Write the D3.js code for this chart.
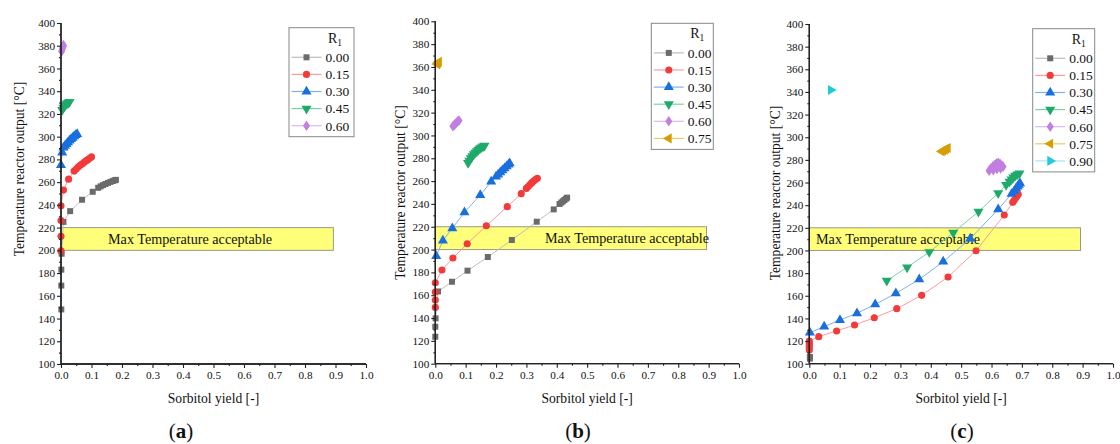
<!DOCTYPE html>
<html>
<head>
<meta charset="utf-8">
<script src="https://cdn.jsdelivr.net/npm/d3@7"></script>
<style>
  html, body { margin: 0; padding: 0; background: #fff; }
  svg { display: block; }
  text { font-family: "Liberation Serif", "Times New Roman", serif; fill: #111; }
</style>
</head>
<body>
<svg id="chart" width="1120" height="444"></svg>
<script>
// R1 ratio labels and styling keys
const ratios = ["0.00", "0.15", "0.30", "0.45", "0.60", "0.75", "0.90"];
const markerColors = ["#6b6b6b", "#f33a3a", "#1a6fdf", "#1faa6b", "#c17fe0", "#d69e00", "#1ecbd6"];
const lineColors = ["#bdbdbd", "#ff9a9a", "#7fb0ef", "#78d4a8", "#dcb8f2", "#ebcb6a", "#9ee9ee"];
const markerShapes = ["square", "circle", "up", "down", "diamond", "left", "right"];

const yTicks = [100, 120, 140, 160, 180, 200, 220, 240, 260, 280, 300, 320, 340, 360, 380, 400];
const xTicks = [0, 0.1, 0.2, 0.3, 0.4, 0.5, 0.6, 0.7, 0.8, 0.9, 1.0];

// Acceptable outlet temperature band
const bandTemps = [200, 220];
const bandYield = [0, 0.893];
const bandLabel = "Max Temperature acceptable";

// Panel (a): sorbitol yield vs reactor outlet temperature, [yield, T]
const a000 = [[0.001,148],[0.001,169],[0.001,183],[0.002,197],[0.008,225],[0.03,234.5],[0.069,244.5],[0.104,251.5],[0.122,255],[0.13,256.3],[0.138,257.4],[0.146,258.4],[0.154,259.3],[0.162,260.2],[0.17,261],[0.176,261.6],[0.18,262]];
const a015 = [[0,199.5],[0,212.4],[0,226.2],[0,239.2],[0.008,253],[0.025,262.6],[0.043,269.7],[0.05,271.5],[0.057,273.5],[0.064,275],[0.07,276.2],[0.076,277.5],[0.082,278.7],[0.088,279.8],[0.094,281],[0.1,282.2]];
const a030 = [[0,275],[0.004,286],[0.008,290.5],[0.013,292],[0.018,293.5],[0.023,295],[0.028,296.5],[0.033,297.8],[0.038,299],[0.043,300.2],[0.048,301.3],[0.053,302.3]];
const a045 = [[0.004,323.5],[0.008,325.5],[0.012,327],[0.016,328.3],[0.02,329.3],[0.024,330],[0.028,330.5]];
const a060 = [[0.002,375],[0.004,377],[0.006,378.5],[0.007,379.5],[0.008,380.5]];

// Panel (b)
const b000 = [[0,123.6],[0,132.4],[0.001,139.7],[0.009,163.3],[0.055,171.8],[0.106,181.5],[0.173,193.5],[0.252,208.4],[0.334,224.4],[0.39,235.2],[0.409,239.9],[0.415,241.2],[0.42,242.3],[0.425,243.4],[0.43,244.5],[0.434,245.5]];
const b015 = [[0,149.3],[0,155.8],[0,162.8],[0,170.9],[0.022,182.1],[0.058,192.6],[0.105,205.1],[0.168,220.9],[0.237,237.6],[0.283,249],[0.3,253.6],[0.306,255.3],[0.312,257],[0.318,258.6],[0.324,260],[0.33,261.3],[0.336,262.4]];
const b030 = [[0.003,194.3],[0.025,207.8],[0.056,218.6],[0.096,232.6],[0.148,247.8],[0.184,259.5],[0.2,264],[0.207,265.8],[0.214,267.6],[0.221,269.4],[0.228,271.2],[0.235,273],[0.241,274.5],[0.245,275.5]];
const b045 = [[0.108,276],[0.112,278],[0.117,280],[0.122,281.8],[0.127,283.5],[0.132,285],[0.137,286.3],[0.142,287.5],[0.147,288.6],[0.152,289.6],[0.157,290.4],[0.162,291]];
const b060 = [[0.058,308],[0.062,309],[0.066,310.2],[0.07,311.3],[0.074,312.3],[0.078,313]];
const b075 = [[0.006,362.5],[0.009,363.5],[0.012,364.5]];

// Panel (c)
const c000 = [[0.002,104.5],[0.002,106]];
const c015 = [[0,112],[0,114],[0,116],[0,118],[0,120],[0.031,123.9],[0.09,128.9],[0.149,134.2],[0.214,140.6],[0.288,148.6],[0.37,160.4],[0.457,176.6],[0.549,199.8],[0.642,231.3],[0.67,242.5],[0.675,244.5],[0.68,246.5],[0.684,248.2],[0.688,249.6]];
const c030 = [[0.002,127.4],[0.049,132.7],[0.101,138.6],[0.157,144.5],[0.217,152.4],[0.285,162.1],[0.362,174.5],[0.441,190.1],[0.53,210.4],[0.622,236.3],[0.666,249.9],[0.675,252.5],[0.681,254.9],[0.686,256.5],[0.69,258],[0.694,259.3]];
const c045 = [[0.255,173.3],[0.322,185.1],[0.395,198.6],[0.474,215.7],[0.557,234.3],[0.622,250.5],[0.648,257.8],[0.659,260.8],[0.666,262.8],[0.672,264.6],[0.678,266],[0.685,267.2],[0.692,268]];
const c060 = [[0.592,270.5],[0.598,272.5],[0.604,274],[0.61,275.5],[0.616,276.8],[0.622,277.5],[0.628,276.5],[0.634,275],[0.638,274],[0.63,272.5],[0.618,272],[0.606,271]];
const c075 = [[0.436,287.5],[0.441,288.3],[0.446,289],[0.451,289.8],[0.456,290.5]];
const c090 = [[0.071,341.7]];

const panels = [
  { tag: "a", series: [a000, a015, a030, a045, a060],
    left: 61, right: 366, top: 23, bottom: 364,
    yTitleY: 169, yTitleX: 19, labelAt: 0.154, legend: { x: 289, y: 27.7, w: 65 }, tagX: 181 },
  { tag: "b", series: [b000, b015, b030, b045, b060, b075],
    left: 435.3, right: 739, top: 21.3, bottom: 363.7,
    yTitleY: 192.5, yTitleX: 400, labelAt: 0.361, legend: { x: 651.3, y: 23.3, w: 62 }, tagX: 578 },
  { tag: "c", series: [c000, c015, c030, c045, c060, c075, c090],
    left: 809.3, right: 1113, top: 24, bottom: 363.7,
    yTitleY: 193, yTitleX: 775, labelAt: 0.022, legend: { x: 1032.7, y: 28.7, w: 62 }, tagX: 962 }
];

const svg = d3.select("#chart");

function symbolFor(shape, size) {
  const type = { square: d3.symbolSquare, circle: d3.symbolCircle, up: d3.symbolTriangle,
                 down: d3.symbolTriangle, left: d3.symbolTriangle, right: d3.symbolTriangle,
                 diamond: d3.symbolDiamond }[shape];
  return d3.symbol().type(type).size(size)();
}
const rotation = { up: 0, down: 180, left: -90, right: 90, square: 0, circle: 0, diamond: 0 };
const sizes = { square: 36, circle: 40, up: 44, down: 44, left: 44, right: 44, diamond: 36 };

function drawMarker(g, shape, color, x, y) {
  g.append("path")
    .attr("d", symbolFor(shape, sizes[shape]))
    .attr("transform", `translate(${x},${y}) rotate(${rotation[shape]})` + (shape === "diamond" ? " scale(1.1,0.95)" : ""))
    .attr("fill", color);
}

panels.forEach(p => {
  const x = d3.scaleLinear().domain([0, 1]).range([p.left, p.right]);
  const y = d3.scaleLinear().domain([100, 400]).range([p.bottom, p.top]);
  const g = svg.append("g");

  // temperature band
  g.append("rect")
    .attr("x", x(bandYield[0])).attr("width", x(bandYield[1]) - x(bandYield[0]))
    .attr("y", y(bandTemps[1])).attr("height", y(bandTemps[0]) - y(bandTemps[1]))
    .attr("fill", "#ffff7a").attr("stroke", "#9a9a8a").attr("stroke-width", 1);
  g.append("text")
    .attr("x", x(p.labelAt)).attr("y", y((bandTemps[0] + bandTemps[1]) / 2) + 5)
    .attr("font-size", 14.2).text(bandLabel);

  // series lines then markers
  const line = d3.line().x(d => x(d[0])).y(d => y(d[1]));
  p.series.forEach((s, i) => {
    g.append("path").datum(s).attr("d", line)
      .attr("fill", "none").attr("stroke", lineColors[i]).attr("stroke-width", 1);
  });
  p.series.forEach((s, i) => {
    s.forEach(d => drawMarker(g, markerShapes[i], markerColors[i], x(d[0]), y(d[1])));
  });

  // axes
  const yAxis = d3.axisLeft(y).tickValues(yTicks).tickSize(4).tickPadding(2).tickFormat(d3.format("d"));
  const yMinor = d3.axisLeft(y).tickValues(d3.range(110, 400, 20)).tickSize(2).tickFormat("");
  const xAxis = d3.axisBottom(x).tickValues(xTicks).tickSize(4).tickPadding(3).tickFormat(d3.format(".1f"));
  const xMinor = d3.axisBottom(x).tickValues(d3.range(0.05, 1, 0.1)).tickSize(2).tickFormat("");

  [yAxis, yMinor].forEach(ax => {
    const a = g.append("g").attr("transform", `translate(${p.left},0)`).call(ax);
    a.select(".domain").attr("stroke", "#222").attr("stroke-width", 1.3).attr("d", `M0,${p.top}V${p.bottom}`);
    a.selectAll(".tick line").attr("stroke", "#222").attr("stroke-width", 1.1);
    a.selectAll(".tick text").attr("font-size", 11.2).attr("font-family", "Liberation Serif").attr("fill", "#111");
  });
  [xAxis, xMinor].forEach(ax => {
    const a = g.append("g").attr("transform", `translate(0,${p.bottom})`).call(ax);
    a.select(".domain").attr("stroke", "#222").attr("stroke-width", 1.3).attr("d", `M${p.left},0H${p.right}`);
    a.selectAll(".tick line").attr("stroke", "#222").attr("stroke-width", 1.1);
    a.selectAll(".tick text").attr("font-size", 11.2).attr("font-family", "Liberation Serif").attr("fill", "#111");
  });

  // axis titles
  g.append("text")
    .attr("transform", `translate(${p.yTitleX},${p.yTitleY}) rotate(-90)`)
    .attr("text-anchor", "middle").attr("dominant-baseline", "central")
    .attr("font-size", 13.6).text("Temperature reactor output [°C]");
  g.append("text")
    .attr("x", (p.left + p.right) / 2).attr("y", 402.5)
    .attr("text-anchor", "middle").attr("font-size", 13.6).text("Sorbitol yield [-]");

  // panel tag
  const t = g.append("text").attr("x", p.tagX).attr("y", 438).attr("text-anchor", "middle").attr("font-size", 21);
  t.append("tspan").text("(");
  t.append("tspan").attr("font-weight", "bold").text(p.tag);
  t.append("tspan").text(")");

  // legend
  const L = p.legend;
  const n = p.series.length;
  const rowStep = 17.1;
  const firstRow = L.y + 29.6;
  const h = (firstRow - L.y) + (n - 1) * rowStep + 11;
  g.append("rect").attr("x", L.x).attr("y", L.y).attr("width", L.w).attr("height", h)
    .attr("fill", "#fff").attr("stroke", "#888").attr("stroke-width", 1);
  const title = g.append("text").attr("x", L.x + 46).attr("y", L.y + 15)
    .attr("text-anchor", "middle").attr("font-size", 14);
  title.append("tspan").text("R");
  title.append("tspan").attr("font-size", 9.5).attr("dy", 3).text("1");
  for (let i = 0; i < n; i++) {
    const ry = firstRow + i * rowStep;
    g.append("line").attr("x1", L.x + 2.5).attr("x2", L.x + 32.5).attr("y1", ry).attr("y2", ry)
      .attr("stroke", lineColors[i]).attr("stroke-width", 1.2);
    drawMarker(g, markerShapes[i], markerColors[i], L.x + 17.5, ry);
    g.append("text").attr("x", L.x + 36.5).attr("y", ry + 4.8).attr("font-size", 13.5).text(ratios[i]);
  }
});
</script>
</body>
</html>
